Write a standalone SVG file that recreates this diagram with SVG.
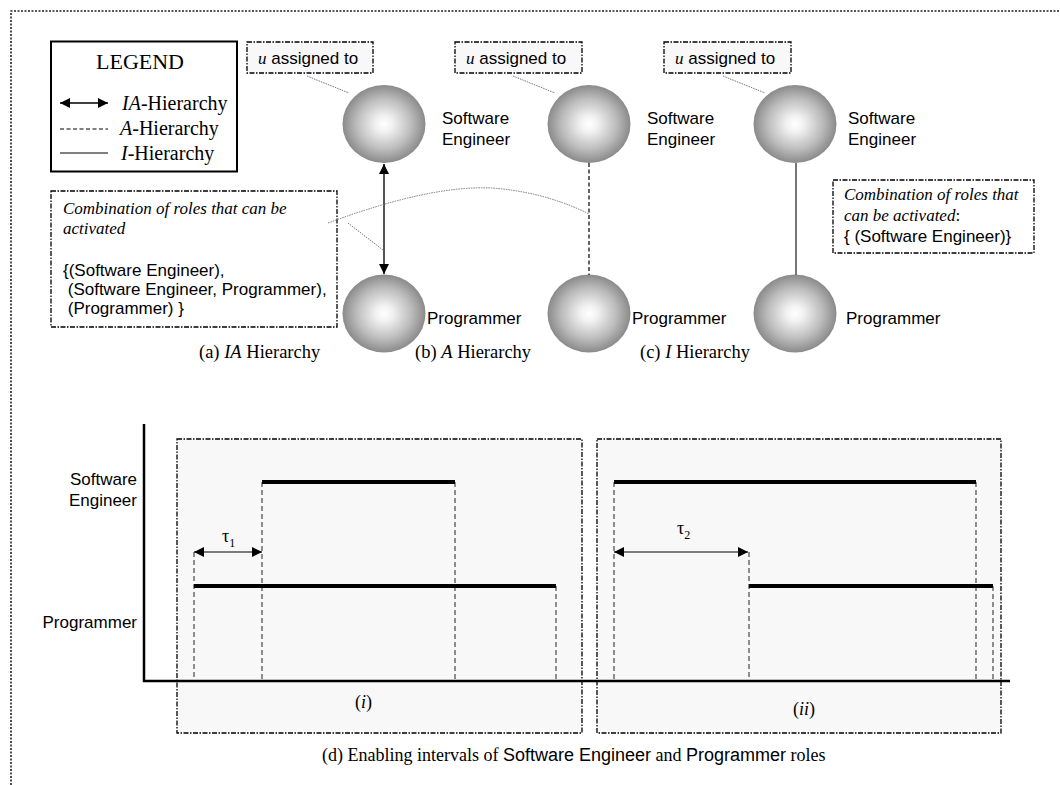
<svg xmlns="http://www.w3.org/2000/svg" width="1060" height="785" viewBox="0 0 1060 785">
  <style>
    .serif { font-family: "Liberation Serif", "Times New Roman", serif; fill: #000; }
    .sans { font-family: "Liberation Sans", Arial, sans-serif; fill: #000; }
    .lbl { font-family: "Liberation Sans", Arial, sans-serif; font-size: 17px; fill: #000; }
    .box { fill: #ffffff; stroke: #000; stroke-width: 1.3; stroke-dasharray: 5 1.5 1.5 1.5; }
    .tag { fill: #f8f8f8; stroke: #000; stroke-width: 1.3; stroke-dasharray: 5 1.5 1.5 1.5; }
    .panel { fill: #f8f8f8; stroke: #000; stroke-width: 1.3; stroke-dasharray: 5 1.5 1.5 1.5; }
    .callout { fill: none; stroke: #777; stroke-width: 1; stroke-dasharray: 1.5 1; }
    .guide { stroke: #555; stroke-width: 1.3; stroke-dasharray: 5 3; fill: none; }
    .bar { stroke: #000; stroke-width: 4; }
    .axis { stroke: #000; stroke-width: 2.5; }
  </style>
  <defs>
    <radialGradient id="ball" cx="50%" cy="50%" r="50%">
      <stop offset="0" stop-color="#ffffff"/>
      <stop offset="0.2" stop-color="#f2f2f2"/>
      <stop offset="0.65" stop-color="#bdbdbd"/>
      <stop offset="1" stop-color="#8a8a8a"/>
    </radialGradient>
    <marker id="head" viewBox="0 0 10 10" refX="10" refY="5" markerWidth="10" markerHeight="10" markerUnits="userSpaceOnUse" orient="auto-start-reverse">
      <path d="M0,0 L10,5 L0,10 z" fill="#000"/>
    </marker>
  </defs>

  <rect width="1060" height="785" fill="#ffffff"/>

  <!-- outer dotted frame -->
  <path d="M11,785 L11,11 L1060,11" fill="none" stroke="#222" stroke-width="1.6" stroke-dasharray="2 1.5"/>

  <!-- legend -->
  <g id="legend">
    <rect x="51" y="41.5" width="186" height="130" fill="#fff" stroke="#000" stroke-width="2"/>
    <text x="140" y="69" text-anchor="middle" class="serif" font-size="22">LEGEND</text>
    <line x1="60" y1="103" x2="108" y2="103" stroke="#000" stroke-width="1.3" marker-start="url(#head)" marker-end="url(#head)"/>
    <text x="122" y="110" class="serif" font-size="20"><tspan font-style="italic">IA</tspan>-Hierarchy</text>
    <line x1="60" y1="129" x2="108" y2="129" stroke="#000" stroke-width="1" stroke-dasharray="4 2.5"/>
    <text x="120" y="135" class="serif" font-size="20"><tspan font-style="italic">A</tspan>-Hierarchy</text>
    <line x1="60" y1="153" x2="108" y2="153" stroke="#000" stroke-width="1"/>
    <text x="121" y="160" class="serif" font-size="20"><tspan font-style="italic">I</tspan>-Hierarchy</text>
  </g>

  <!-- "u assigned to" tags -->
  <g id="tag-a">
    <rect class="tag" x="247" y="42" width="126" height="31"/>
    <text x="258" y="64" class="lbl"><tspan class="serif" font-style="italic">u</tspan> assigned to</text>
  </g>
  <g id="tag-b">
    <rect class="tag" x="455" y="42" width="127" height="31"/>
    <text x="466" y="64" class="lbl"><tspan class="serif" font-style="italic">u</tspan> assigned to</text>
  </g>
  <g id="tag-c">
    <rect class="tag" x="664" y="42" width="127" height="31"/>
    <text x="675" y="64" class="lbl"><tspan class="serif" font-style="italic">u</tspan> assigned to</text>
  </g>

  <!-- role nodes -->
  <g id="se-a">
    <ellipse cx="384" cy="124" rx="41.5" ry="39" fill="url(#ball)"/>
    <text x="442" y="124" class="lbl">Software</text>
    <text x="442" y="145" class="lbl">Engineer</text>
  </g>
  <g id="se-b">
    <ellipse cx="589" cy="124" rx="41.5" ry="39" fill="url(#ball)"/>
    <text x="647" y="124" class="lbl">Software</text>
    <text x="647" y="145" class="lbl">Engineer</text>
  </g>
  <g id="se-c">
    <ellipse cx="795" cy="124" rx="41.5" ry="39" fill="url(#ball)"/>
    <text x="848" y="124" class="lbl">Software</text>
    <text x="848" y="145" class="lbl">Engineer</text>
  </g>
  <g id="prog-a">
    <ellipse cx="384" cy="313.5" rx="41.5" ry="39" fill="url(#ball)"/>
    <text x="427" y="324" class="lbl">Programmer</text>
  </g>
  <g id="prog-b">
    <ellipse cx="589" cy="313.5" rx="41.5" ry="39" fill="url(#ball)"/>
    <text x="632" y="324" class="lbl">Programmer</text>
  </g>
  <g id="prog-c">
    <ellipse cx="795" cy="313.5" rx="41.5" ry="39" fill="url(#ball)"/>
    <text x="846" y="324" class="lbl">Programmer</text>
  </g>

  <!-- notes -->
  <g id="note-a">
    <rect class="box" x="51" y="191" width="286" height="136"/>
    <text x="63" y="214" class="serif" font-size="17" font-style="italic" fill="#222">Combination of roles that can be</text>
    <text x="63" y="234" class="serif" font-size="17" font-style="italic" fill="#222">activated</text>
    <text x="63" y="276" class="lbl">{(Software Engineer),</text>
    <text x="63" y="295" class="lbl" xml:space="preserve"> (Software Engineer, Programmer),</text>
    <text x="63" y="314" class="lbl" xml:space="preserve"> (Programmer) }</text>
  </g>
  <g id="note-c">
    <rect class="box" x="833" y="180" width="201" height="73"/>
    <text x="844" y="200" class="serif" font-size="17" font-style="italic" fill="#222">Combination of roles that</text>
    <text x="844" y="221" class="serif" font-size="17" fill="#222"><tspan font-style="italic">can be activated</tspan>:</text>
    <text x="844" y="242" class="lbl">{ (Software Engineer)}</text>
  </g>

  <!-- captions of the three hierarchies -->
  <text x="199" y="358" class="serif" font-size="18.5">(a) <tspan font-style="italic">IA</tspan> Hierarchy</text>
  <text x="415" y="358" class="serif" font-size="18.5">(b) <tspan font-style="italic">A</tspan> Hierarchy</text>
  <text x="640" y="358" class="serif" font-size="18.5">(c) <tspan font-style="italic">I</tspan> Hierarchy</text>

  <!-- connectors -->
  <g id="connectors">
    <line x1="384" y1="164" x2="384" y2="274" stroke="#555" stroke-width="2" marker-start="url(#head)" marker-end="url(#head)"/>
    <line x1="589" y1="163" x2="589" y2="275" stroke="#000" stroke-width="1.2" stroke-dasharray="4 2.5"/>
    <line x1="796" y1="163" x2="796" y2="275" stroke="#777" stroke-width="2"/>
    <!-- callouts -->
    <line class="callout" x1="307" y1="76" x2="349" y2="93"/>
    <line class="callout" x1="513" y1="76" x2="555" y2="93"/>
    <line class="callout" x1="723" y1="76" x2="765" y2="93"/>
    <path class="callout" d="M328,223 Q430,185 492,188 Q545,192 589,214"/>
    <line class="callout" x1="348" y1="223" x2="383" y2="250"/>
  </g>

  <!-- timeline panels -->
  <g id="panel-i">
    <rect class="panel" x="177" y="439" width="405" height="294"/>
    <text x="355" y="708" class="serif" font-size="18">(<tspan font-style="italic">i</tspan>)</text>
  </g>
  <g id="panel-ii">
    <rect class="panel" x="597" y="439" width="404" height="294"/>
    <text x="793" y="715" class="serif" font-size="18">(<tspan font-style="italic">ii</tspan>)</text>
  </g>

  <!-- axes -->
  <line class="axis" x1="144" y1="424" x2="144" y2="682"/>
  <line class="axis" x1="143" y1="681" x2="1010" y2="681"/>
  <text x="137" y="485" text-anchor="end" class="lbl">Software</text>
  <text x="137" y="506" text-anchor="end" class="lbl">Engineer</text>
  <text x="137" y="628" text-anchor="end" class="lbl">Programmer</text>

  <!-- enabling intervals (i) -->
  <g id="intervals-i">
    <line class="guide" x1="194" y1="552" x2="194" y2="680"/>
    <line class="guide" x1="262" y1="482" x2="262" y2="680"/>
    <line class="guide" x1="455" y1="482" x2="455" y2="680"/>
    <line class="guide" x1="556" y1="586" x2="556" y2="680"/>
    <line class="bar" x1="262" y1="482" x2="455" y2="482"/>
    <line class="bar" x1="194" y1="586" x2="556" y2="586"/>
    <line x1="194" y1="552" x2="262" y2="552" stroke="#000" stroke-width="1.2" marker-start="url(#head)" marker-end="url(#head)"/>
    <text x="222" y="542" class="serif" font-size="18">τ<tspan font-size="12" dy="5">1</tspan></text>
  </g>

  <!-- enabling intervals (ii) -->
  <g id="intervals-ii">
    <line class="guide" x1="614" y1="482" x2="614" y2="680"/>
    <line class="guide" x1="749" y1="552" x2="749" y2="680"/>
    <line class="guide" x1="976" y1="482" x2="976" y2="680"/>
    <line class="guide" x1="993" y1="586" x2="993" y2="680"/>
    <line class="bar" x1="614" y1="482" x2="976" y2="482"/>
    <line class="bar" x1="749" y1="586" x2="993" y2="586"/>
    <line x1="614" y1="552" x2="748" y2="552" stroke="#000" stroke-width="1.2" marker-start="url(#head)" marker-end="url(#head)"/>
    <text x="677" y="534" class="serif" font-size="18">τ<tspan font-size="12" dy="5">2</tspan></text>
  </g>

  <!-- caption of the timeline -->
  <text x="322" y="761" class="serif" font-size="18">(d) Enabling intervals of <tspan class="sans">Software Engineer</tspan> and <tspan class="sans">Programmer</tspan> roles</text>
</svg>
